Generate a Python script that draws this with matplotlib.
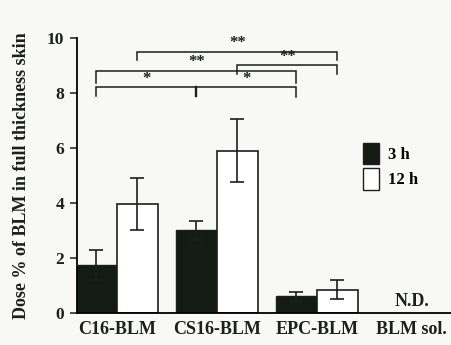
import matplotlib.pyplot as plt
import numpy as np
from matplotlib.patches import Patch

plt.rcParams['font.family'] = ['Liberation Serif', 'DejaVu Serif']
plt.rcParams['font.weight'] = 'bold'

# data
groups = ['C16-BLM', 'CS16-BLM', 'EPC-BLM', 'BLM sol.']
dose_3h = [1.75, 3.0, 0.6]
err_3h = [0.55, 0.35, 0.15]
dose_12h = [3.95, 5.9, 0.85]
err_12h = [0.95, 1.15, 0.35]
# significance: (group a, series a, group b, series b, label)
comparisons = [(0, '3h', 1, '3h', '*'), (1, '3h', 2, '3h', '*'),
               (0, '3h', 2, '3h', '**'), (1, '12h', 2, '12h', '**'),
               (0, '12h', 2, '12h', '**')]

ink = '#1c1f1c'
fig = plt.figure(figsize=(4.52, 3.45), dpi=100, facecolor='#f8f8f6')
ax = fig.add_axes([0.170, 0.093, 0.830, 0.797])
ax.set_facecolor('none')

x = np.arange(len(dose_3h))
w = 0.41
off = {'3h': -w / 2, '12h': w / 2}
ax.bar(x - w / 2, dose_3h, w, color='#141a14', edgecolor=ink, linewidth=1.0)
ax.bar(x + w / 2, dose_12h, w, color='white', edgecolor=ink, linewidth=1.2)
ax.errorbar(x - w / 2, dose_3h, yerr=err_3h, fmt='none', ecolor=ink,
            elinewidth=1.2, capsize=5, capthick=1.2)
ax.errorbar(x + w / 2, dose_12h, yerr=err_12h, fmt='none', ecolor=ink,
            elinewidth=1.2, capsize=5, capthick=1.2)
ax.text(2.95, 0.12, 'N.D.', ha='center', va='bottom', fontsize=13, color=ink)

# brackets
lw = 1.1
def bracket(x0, x1, y, d0=0.35, d1=0.35):
    ax.plot([x0, x0, x1, x1], [y - d0, y, y, y - d1], color=ink, lw=lw,
            clip_on=False, solid_joinstyle='miter')

pos = lambda g, s: g + off[s]
# lowest bracket split at CS16 3h
yA = 8.2
bracket(pos(0, '3h'), pos(2, '3h'), yA, 0.3, 0.35)
ax.plot([pos(1, '3h')] * 2, [yA, yA - 0.3], color=ink, lw=lw + 0.6)
heights = [yA, yA, 8.8, 9.0, 9.5]
for (ga, sa, gb, sb, lab), h in zip(comparisons, heights):
    xa, xb = pos(ga, sa), pos(gb, sb)
    if h != yA:
        bracket(xa, xb, h, 0.45 if h == 8.8 else 0.3, 0.45 if h == 8.8 else 0.3)
    ax.text((xa + xb) / 2, h + 0.02, lab, ha='center', va='bottom',
            fontsize=12, color=ink, clip_on=False)

ax.set_xlim(-0.40, 3.35)
ax.set_ylim(0, 10)
ax.set_yticks([0, 2, 4, 6, 8, 10])
ax.set_xticks([0, 1, 2, 2.94])
ax.set_xticklabels(groups, fontsize=13, color=ink)
ax.tick_params(axis='x', length=0, pad=6)
ax.tick_params(axis='y', labelsize=12.5, length=5, width=1.1, colors=ink, pad=4)
ax.spines['top'].set_visible(False)
ax.spines['right'].set_visible(False)
ax.spines['left'].set_linewidth(1.3)
ax.spines['bottom'].set_linewidth(1.3)
ax.set_ylabel('Dose % of BLM in full thickness skin', fontsize=13,
              fontweight='bold', color=ink)
ax.yaxis.set_label_coords(-0.125, 0.5)

handles = [Patch(facecolor='#141a14', edgecolor=ink, label='3 h'),
           Patch(facecolor='white', edgecolor=ink, label='12 h')]
fig.legend(handles=handles, loc='upper left', bbox_to_anchor=(0.77, 0.63),
           frameon=False, fontsize=12, handlelength=0.95, handleheight=1.6,
           handletextpad=0.55, labelspacing=0.25)

fig.savefig('out.png', dpi=100, facecolor=fig.get_facecolor())
